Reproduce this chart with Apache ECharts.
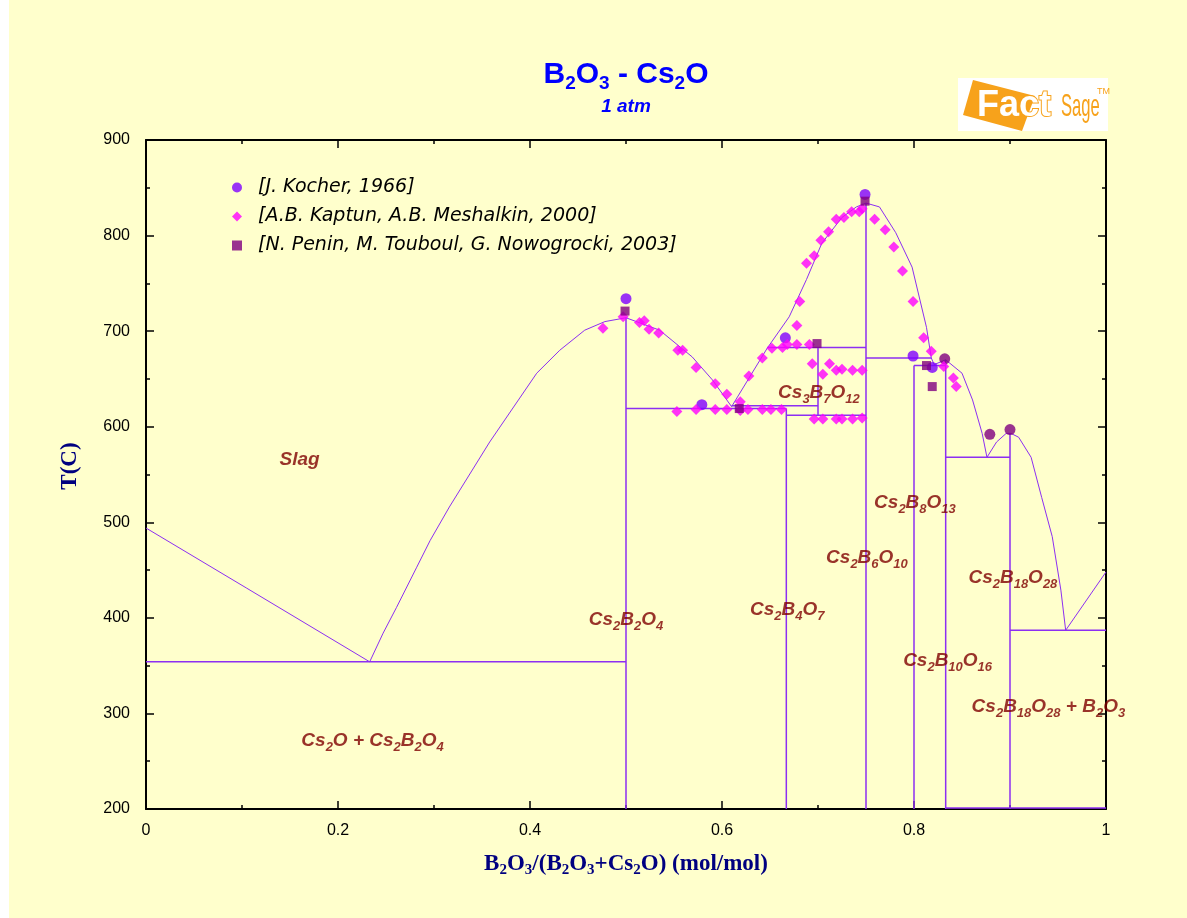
<!DOCTYPE html>
<html>
<head>
<meta charset="utf-8">
<script src="https://cdn.jsdelivr.net/npm/echarts@6/dist/echarts.min.js"></script>
<style>
  html, body { margin: 0; padding: 0; background: #fff; }
  #chart { position: absolute; left: 9px; top: 0; width: 1178px; height: 918px; background: #FFFFCC; }
</style>
</head>
<body>
<div id="chart"></div>
<script>
// B2O3 - Cs2O phase diagram (FactSage)
var xTicks = [0, 0.2, 0.4, 0.6, 0.8, 1];
var yTicks = [200, 300, 400, 500, 600, 700, 800, 900];

// liquidus, left branch (Cs2O side)
var liquidusA = [[0, 494], [0.105, 431], [0.233, 354]];
// liquidus through Cs2B2O4 dome down to eutectic
var liquidusB = [[0.233, 354], [0.247, 384], [0.261, 411], [0.282, 453], [0.296, 481], [0.316, 516],
    [0.358, 584], [0.407, 656], [0.431, 680], [0.457, 701], [0.478, 710], [0.5, 714],
    [0.535, 701], [0.569, 673], [0.590, 649], [0.610, 621]];
// liquidus from eutectic over Cs2B6O10 ... to B2O3
var liquidusC = [[0.610, 621], [0.647, 682], [0.670, 715], [0.688, 754], [0.704, 792], [0.725, 819],
    [0.740, 830], [0.750, 834], [0.764, 830], [0.781, 803], [0.798, 767], [0.813, 704],
    [0.818, 672], [0.821, 665], [0.833, 670], [0.850, 656], [0.861, 628], [0.871, 593],
    [0.876, 568], [0.886, 584], [0.896, 593], [0.901, 593], [0.909, 589], [0.922, 568],
    [0.933, 526], [0.944, 485], [0.953, 429], [0.958, 387], [1, 448]];

// invariant (horizontal) lines: [x1, x2, T]
var invariants = [[0, 0.5, 354], [0.5, 0.667, 619], [0.610, 0.7, 622], [0.667, 0.75, 612],
    [0.647, 0.75, 683], [0.75, 0.818, 672], [0.8, 0.833, 664], [0.833, 0.9, 568],
    [0.9, 1, 387], [0.833, 1, 201]];
// compound (vertical) lines: [x, Ttop, Tbottom]
var compounds = [[0.5, 714, 200], [0.667, 619, 200], [0.7, 683, 612], [0.75, 834, 200],
    [0.8, 664, 200], [0.833, 670, 200], [0.9, 593, 200]];

var kocher = [[0.5, 734], [0.579, 623], [0.666, 693], [0.749, 843], [0.799, 674], [0.819, 662]];
var kocherDark = [[0.832, 671], [0.879, 592], [0.9, 597]];
var kaptun = [[0.476, 703], [0.497, 715], [0.514, 709], [0.519, 711], [0.524, 702], [0.534, 698],
    [0.554, 680], [0.559, 680], [0.573, 662], [0.593, 645], [0.605, 634], [0.619, 626],
    [0.553, 616], [0.573, 618], [0.593, 618], [0.605, 618], [0.619, 617], [0.627, 618],
    [0.642, 618], [0.651, 618], [0.662, 618],
    [0.628, 653], [0.642, 672], [0.678, 706], [0.681, 731], [0.688, 771], [0.696, 779],
    [0.703, 795], [0.711, 804], [0.719, 817], [0.727, 819], [0.735, 825], [0.743, 825], [0.746, 828],
    [0.652, 682], [0.663, 683], [0.668, 686], [0.678, 686], [0.691, 686],
    [0.694, 666], [0.705, 655], [0.712, 666], [0.719, 659], [0.725, 660], [0.736, 659], [0.746, 659],
    [0.696, 608], [0.705, 608], [0.719, 608], [0.725, 608], [0.736, 608], [0.746, 609],
    [0.759, 817], [0.770, 806], [0.779, 788], [0.788, 763], [0.799, 731], [0.810, 693],
    [0.818, 679], [0.831, 663], [0.841, 651], [0.844, 642]];
var penin = [[0.499, 721], [0.618, 619], [0.699, 687], [0.749, 836], [0.813, 664], [0.819, 642]];

var regionLabels = [[0.160, 565, 'Slag'], [0.236, 271, 'Cs2O + Cs2B2O4'], [0.5, 398, 'Cs2B2O4'],
    [0.668, 408, 'Cs2B4O7'], [0.701, 635, 'Cs3B7O12'], [0.801, 520, 'Cs2B8O13'],
    [0.751, 463, 'Cs2B6O10'], [0.835, 355, 'Cs2B10O16'], [0.903, 442, 'Cs2B18O28'],
    [0.940, 307, 'Cs2B18O28 + B2O3']];

var lineColor = '#8C2EF2';
var orange = '#F7A21B';
var darkRed = '#800000';
var sans = 'Liberation Sans, Arial, sans-serif';
var serif = 'Liberation Serif, Times New Roman, serif';

// digits -> subscript tokens
function toRich(s, m, sub) {
    return s.replace(/(\d+)|([^\d]+)/g, function (a, d, t) {
        return d ? '{' + sub + '|' + d + '}' : '{' + m + '|' + t + '}';
    });
}

var myChart = echarts.init(document.getElementById('chart'));

var series = [];
function addLine(data, w) {
    series.push({
        type: 'line', data: data, symbol: 'none', silent: true, z: 2,
        lineStyle: {color: lineColor, width: w}
    });
}
addLine(liquidusA, 1);
addLine(liquidusB, 1);
addLine(liquidusC, 1);
invariants.forEach(function (h) { addLine([[h[0], h[2]], [h[1], h[2]]], 1.5); });
compounds.forEach(function (v) { addLine([[v[0], v[1]], [v[0], v[2]]], 1.5); });

series.push({
    name: '[J. Kocher, 1966]', type: 'scatter', symbol: 'circle', symbolSize: 11, z: 5,
    itemStyle: {color: '#8000FF'},
    data: kocher.concat(kocherDark.map(function (p) {
        return {value: p, itemStyle: {color: '#800080'}};
    }))
});
series.push({
    name: '[A.B. Kaptun, A.B. Meshalkin, 2000]', type: 'scatter', symbol: 'diamond', symbolSize: 11, z: 6,
    itemStyle: {color: '#FF00FF'}, data: kaptun
});
series.push({
    name: '[N. Penin, M. Touboul, G. Nowogrocki, 2003]', type: 'scatter', symbol: 'rect', symbolSize: 9, z: 7,
    itemStyle: {color: '#800080'}, data: penin
});
series.push({
    type: 'scatter', symbolSize: 1, silent: true, z: 8,
    itemStyle: {color: 'transparent'},
    data: regionLabels,
    label: {
        show: true, position: 'inside', color: darkRed, textBorderWidth: 0,
        formatter: function (p) { return toRich(p.data[2], 'm', 's'); },
        rich: {
            m: {fontSize: 19, fontWeight: 'bold', fontStyle: 'italic', color: darkRed, fontFamily: sans,
                lineHeight: 26, verticalAlign: 'middle'},
            s: {fontSize: 13, fontWeight: 'bold', fontStyle: 'italic', color: darkRed, fontFamily: sans,
                lineHeight: 13, verticalAlign: 'bottom'}
        }
    }
});

var tickStyle = {show: true, inside: true, length: 8, lineStyle: {color: '#000', width: 1.5}};
var minorStyle = {show: true, splitNumber: 2, length: 4, lineStyle: {color: '#000', width: 1.5}};
var axisLine = {show: true, onZero: false, lineStyle: {color: '#000', width: 2}};

option = {
    backgroundColor: '#FFFFCC',
    animation: false,
    grid: {left: 137, right: 81, top: 140, bottom: 109},
    legend: {
        orient: 'vertical', left: 218, top: 173, itemWidth: 10, itemHeight: 10, itemGap: 10,
        data: ['[J. Kocher, 1966]', '[A.B. Kaptun, A.B. Meshalkin, 2000]', '[N. Penin, M. Touboul, G. Nowogrocki, 2003]'],
        formatter: function (name) { return '{sp|}{t|' + name + '}'; },
        textStyle: {
            rich: {
                sp: {width: 11},
                t: {fontSize: 19, fontStyle: 'italic', color: '#000', fontFamily: 'DejaVu Sans, ' + sans, lineHeight: 22}
            }
        }
    },
    xAxis: [{
        type: 'value', min: 0, max: 1, interval: 0.2, position: 'bottom',
        axisLine: axisLine, axisTick: tickStyle, minorTick: minorStyle, splitLine: {show: false},
        axisLabel: {fontSize: 16, color: '#000', fontFamily: sans, margin: 14},
        name: toRich('B2O3/(B2O3+Cs2O) (mol/mol)', 'n', 'ns'),
        nameLocation: 'middle', nameGap: 41,
        nameTextStyle: {
            rich: {
                n: {fontSize: 23, fontWeight: 'bold', color: '#000080', fontFamily: serif, lineHeight: 28, verticalAlign: 'middle'},
                ns: {fontSize: 15, fontWeight: 'bold', color: '#000080', fontFamily: serif, lineHeight: 15, verticalAlign: 'bottom'}
            }
        }
    }, {
        type: 'value', min: 0, max: 1, interval: 0.2, position: 'top',
        axisLine: axisLine, axisTick: tickStyle, minorTick: minorStyle,
        axisLabel: {show: false}, splitLine: {show: false}
    }],
    yAxis: [{
        type: 'value', min: 200, max: 900, interval: 100, position: 'left',
        axisLine: axisLine, axisTick: tickStyle, minorTick: minorStyle, splitLine: {show: false},
        axisLabel: {fontSize: 16, color: '#000', fontFamily: sans, margin: 16}
    }, {
        type: 'value', min: 200, max: 900, interval: 100, position: 'right',
        axisLine: axisLine, axisTick: tickStyle, minorTick: minorStyle,
        axisLabel: {show: false}, splitLine: {show: false}
    }],
    graphic: [
        {
            type: 'text', x: 617, y: 75, z: 10,
            style: {
                text: toRich('B2O3 - Cs2O', 't', 'ts'), align: 'center', verticalAlign: 'middle',
                rich: {
                    t: {fontSize: 30, fontWeight: 'bold', fill: '#0000FF', fontFamily: sans, lineHeight: 36, verticalAlign: 'middle'},
                    ts: {fontSize: 19, fontWeight: 'bold', fill: '#0000FF', fontFamily: sans, lineHeight: 19, verticalAlign: 'bottom'}
                }
            }
        },
        {
            type: 'text', x: 617, y: 107, z: 10,
            style: {text: '1 atm', align: 'center', verticalAlign: 'middle', fill: '#0000FF',
                font: 'italic bold 19px ' + sans}
        },
        // y axis title
        {
            type: 'text', x: 61, y: 466, rotation: Math.PI / 2, z: 10,
            style: {text: 'T(C)', align: 'center', verticalAlign: 'middle', fill: '#000080',
                font: 'bold 23px ' + serif}
        },
        // FactSage logo
        {type: 'rect', x: 949, y: 78, z: 10, shape: {width: 150, height: 53}, style: {fill: '#FFFFFF'}},
        {type: 'polygon', z: 11, shape: {points: [[964, 80], [1026, 96], [1013, 131], [954, 115]]},
            style: {fill: orange}},
        {
            type: 'text', x: 968, y: 106, z: 12,
            style: {text: 'Fact', verticalAlign: 'middle', fill: '#FFFFFF', stroke: orange, lineWidth: 2,
                font: 'bold 36px ' + sans}
        },
        {
            type: 'text', x: 1052, y: 107, scaleX: 0.52, z: 12,
            style: {text: 'Sage', verticalAlign: 'middle', fill: orange, font: '32px ' + sans}
        },
        {
            type: 'text', x: 1088, y: 92, z: 12,
            style: {text: 'TM', verticalAlign: 'middle', fill: orange, font: '9px ' + sans}
        }
    ],
    series: series
};

myChart.setOption(option);
</script>
</body>
</html>
